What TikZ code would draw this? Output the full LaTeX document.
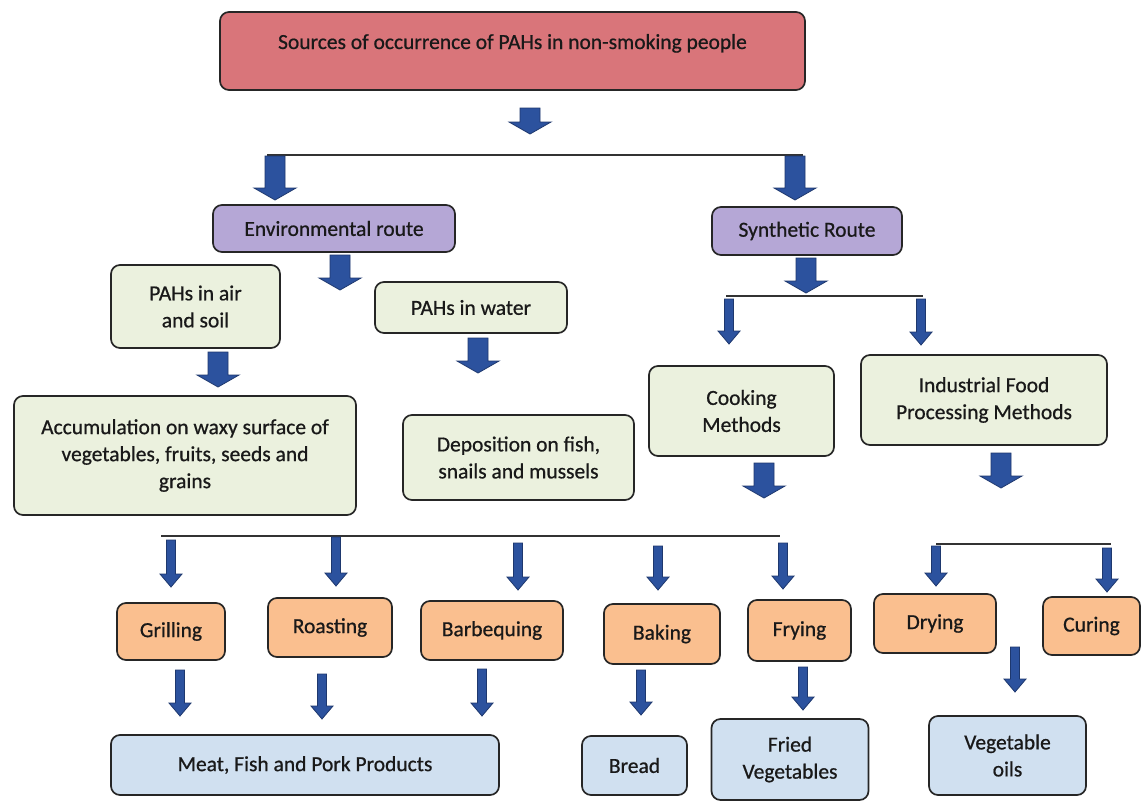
\documentclass[tikz,border=0pt]{standalone}
\usepackage{fontspec}
\setmainfont{Carlito}
\newfontfamily\boxfont{Carlito}[FakeBold=0.7]
\usetikzlibrary{calc}
\definecolor{topred}{RGB}{217,117,122}
\definecolor{routepurple}{RGB}{181,167,214}
\definecolor{palegreen}{RGB}{235,241,222}
\definecolor{procorange}{RGB}{250,191,143}
\definecolor{prodblue}{RGB}{208,224,240}
\definecolor{arrfill}{RGB}{44,82,158}
\definecolor{arredge}{RGB}{30,56,110}
\newcommand\fatarr[2]{\draw[blockarr] ($(#1)+(-10,0)$) -- ($(#2)+(-10,-12)$) -- ($(#2)+(-21,-12)$) -- (#2) -- ($(#2)+(21,-12)$) -- ($(#2)+(10,-12)$) -- ($(#1)+(10,0)$) -- cycle;}
\newcommand\thinarr[2]{\draw[blockarr] ($(#1)+(-4.5,0)$) -- ($(#2)+(-4.5,-13)$) -- ($(#2)+(-11,-13)$) -- (#2) -- ($(#2)+(11,-13)$) -- ($(#2)+(4.5,-13)$) -- ($(#1)+(4.5,0)$) -- cycle;}
\tikzset{
  box/.style={draw=black!85, line width=1.7pt, rounded corners=9pt, inner sep=2pt,
    font=\boxfont\fontsize{21.5}{27}\selectfont, text=black!90, align=center},
  topbox/.style={box, fill=topred},
  routebox/.style={box, fill=routepurple},
  greenbox/.style={box, fill=palegreen},
  orangebox/.style={box, fill=procorange},
  bluebox/.style={box, fill=prodblue},
  blockarr/.style={fill=arrfill, draw=arredge, line width=0.8pt, line join=miter},
  hline/.style={draw=black!80, line width=1.5pt}
}
\begin{document}
\begin{tikzpicture}[x=1pt,y=-1pt]
\useasboundingbox (0,0) rectangle (1142,800);
\fill[white] (0,0) rectangle (1142,800);
% boxes
\node[topbox, minimum width=585pt, minimum height=78pt, text height=14pt, text depth=18pt] (top) at (512.5,51) {Sources of occurrence of PAHs in non-smoking people};
\node[routebox, minimum width=242pt, minimum height=47pt] (env) at (334,228.5) {Environmental route};
\node[routebox, minimum width=190pt, minimum height=48pt] (syn) at (807,231) {Synthetic Route};
\node[greenbox, minimum width=169pt, minimum height=83pt] (air) at (195.5,306.5) {PAHs in air\\and soil};
\node[greenbox, minimum width=192pt, minimum height=51pt] (water) at (471,307.5) {PAHs in water};
\node[greenbox, minimum width=342pt, minimum height=119pt] (accum) at (185,455.5) {Accumulation on waxy surface of\\vegetables, fruits, seeds and\\grains};
\node[greenbox, minimum width=231pt, minimum height=85pt] (depo) at (518.5,457.5) {Deposition on fish,\\snails and mussels};
\node[greenbox, minimum width=185pt, minimum height=90pt] (cook) at (741.5,411) {Cooking\\Methods};
\node[greenbox, minimum width=246pt, minimum height=90pt] (ind) at (984,400) {Industrial Food\\Processing Methods};
\node[orangebox, minimum width=108pt, minimum height=57pt] (grill) at (171,631.5) {Grilling};
\node[orangebox, minimum width=124pt, minimum height=59pt] (roast) at (330,627.5) {Roasting};
\node[orangebox, minimum width=142pt, minimum height=59pt] (bbq) at (492,630.5) {Barbequing};
\node[orangebox, minimum width=116pt, minimum height=60pt] (bake) at (662,634) {Baking};
\node[orangebox, minimum width=103pt, minimum height=61pt] (fry) at (799.5,630.5) {Frying};
\node[orangebox, minimum width=122pt, minimum height=59pt] (dry) at (935,623.5) {Drying};
\node[orangebox, minimum width=97pt, minimum height=58pt] (cure) at (1091.5,626) {Curing};
\node[bluebox, minimum width=388pt, minimum height=60pt] (meat) at (305,765) {Meat, Fish and Pork Products};
\node[bluebox, minimum width=105pt, minimum height=59pt] (bread) at (634.5,765.5) {Bread};
\node[bluebox, minimum width=157pt, minimum height=81pt] (fveg) at (790,759.5) {Fried\\Vegetables};
\node[bluebox, minimum width=157pt, minimum height=79pt] (voil) at (1007.5,755.5) {Vegetable\\oils};
% connector coordinates
\coordinate (a1s) at (530,108); \coordinate (a1e) at (530,134);
\coordinate (l1a) at (267,155); \coordinate (l1b) at (803,155);
\coordinate (a2s) at (275,156); \coordinate (a2e) at (275,200);
\coordinate (a3s) at (795,156); \coordinate (a3e) at (795,200);
\coordinate (a4s) at (340,255); \coordinate (a4e) at (340,290);
\coordinate (a5s) at (218,352); \coordinate (a5e) at (218,387);
\coordinate (a6s) at (478,338); \coordinate (a6e) at (478,373);
\coordinate (a7s) at (806,258); \coordinate (a7e) at (806,293);
\coordinate (l2a) at (726,296); \coordinate (l2b) at (923,296);
\coordinate (n1s) at (729,299); \coordinate (n1e) at (729,344);
\coordinate (n2s) at (921,299); \coordinate (n2e) at (921,345);
\coordinate (a8s) at (764,463); \coordinate (a8e) at (764,498);
\coordinate (a9s) at (1001,453); \coordinate (a9e) at (1001,488);
\coordinate (l3a) at (161,536); \coordinate (l3b) at (780,536);
\coordinate (g1s) at (171,540); \coordinate (g1e) at (171,587);
\coordinate (r1s) at (336,537); \coordinate (r1e) at (336,586);
\coordinate (b1s) at (518,543); \coordinate (b1e) at (518,590);
\coordinate (k1s) at (658,546); \coordinate (k1e) at (658,590);
\coordinate (f1s) at (783,543); \coordinate (f1e) at (783,589);
\coordinate (l4a) at (936,544); \coordinate (l4b) at (1111,544);
\coordinate (d1s) at (936,546); \coordinate (d1e) at (936,586);
\coordinate (c1s) at (1107,548); \coordinate (c1e) at (1107,592);
\coordinate (g2s) at (180,670); \coordinate (g2e) at (180,716);
\coordinate (r2s) at (322,674); \coordinate (r2e) at (322,719);
\coordinate (b2s) at (482,669); \coordinate (b2e) at (482,716);
\coordinate (k2s) at (641,670); \coordinate (k2e) at (641,715);
\coordinate (f2s) at (803,667); \coordinate (f2e) at (803,710);
\coordinate (d2s) at (1015,647); \coordinate (d2e) at (1015,692);
% lines
\draw[hline] (l1a) -- (l1b);
\draw[hline] (l2a) -- (l2b);
\draw[hline] (l3a) -- (l3b);
\draw[hline] (l4a) -- (l4b);
% fat arrows
\fatarr{a1s}{a1e}
\fatarr{a2s}{a2e}
\fatarr{a3s}{a3e}
\fatarr{a4s}{a4e}
\fatarr{a5s}{a5e}
\fatarr{a6s}{a6e}
\fatarr{a7s}{a7e}
\fatarr{a8s}{a8e}
\fatarr{a9s}{a9e}
% thin arrows
\thinarr{n1s}{n1e}
\thinarr{n2s}{n2e}
\thinarr{g1s}{g1e}
\thinarr{r1s}{r1e}
\thinarr{b1s}{b1e}
\thinarr{k1s}{k1e}
\thinarr{f1s}{f1e}
\thinarr{d1s}{d1e}
\thinarr{c1s}{c1e}
\thinarr{g2s}{g2e}
\thinarr{r2s}{r2e}
\thinarr{b2s}{b2e}
\thinarr{k2s}{k2e}
\thinarr{f2s}{f2e}
\thinarr{d2s}{d2e}
\end{tikzpicture}
\end{document}
